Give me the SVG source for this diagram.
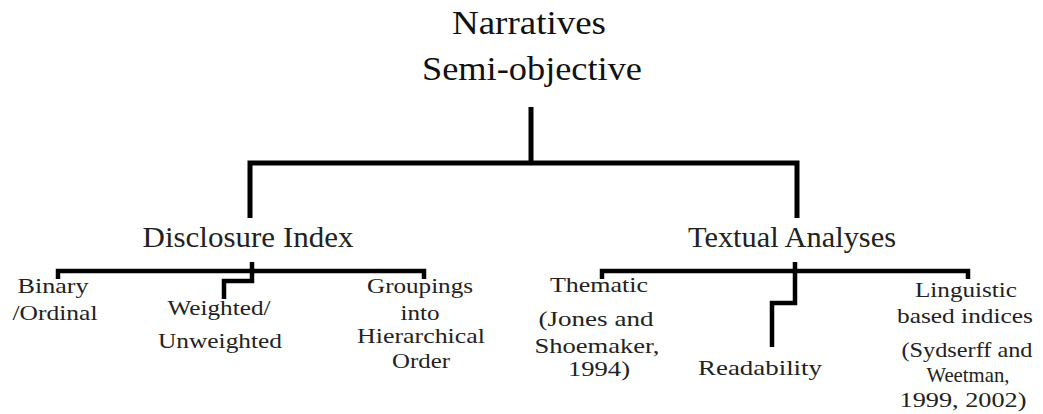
<svg xmlns="http://www.w3.org/2000/svg" width="1043" height="414" viewBox="0 0 1043 414">
<style>
.top{font-family:"Liberation Serif","Times New Roman",serif;font-size:33px;fill:#111;text-anchor:middle}
.mid{font-family:"Liberation Serif","Times New Roman",serif;font-size:29px;fill:#222;text-anchor:middle}
.low{font-family:"Liberation Serif","Times New Roman",serif;font-size:21px;fill:#222;text-anchor:middle}
.ln{fill:none;stroke:#000;stroke-width:5;stroke-linejoin:miter;stroke-linecap:butt}
.ln2{fill:none;stroke:#000;stroke-width:4.5;stroke-linejoin:miter;stroke-linecap:butt}
</style>
<rect width="1043" height="414" fill="#fff"/>
<g id="connectors">
<path class="ln" d="M531 107 V163"/>
<path class="ln" d="M250 218 V163 H797 V218"/>
<path class="ln2" d="M58 279 V271 H424 V279"/>
<path class="ln2" d="M252 262 V281 H224 V299"/>
<path class="ln2" d="M602 279 V271 H968 V279"/>
<path class="ln2" d="M795 262 V303 H772 V347"/>
</g>
<g id="node-narratives">
<text class="top" x="529" y="34" textLength="154" lengthAdjust="spacingAndGlyphs">Narratives</text>
<text class="top" x="532" y="80" textLength="220" lengthAdjust="spacingAndGlyphs">Semi-objective</text>
</g>
<g id="node-disclosure">
<text class="mid" x="248" y="247" textLength="211" lengthAdjust="spacingAndGlyphs">Disclosure Index</text>
</g>
<g id="node-textual">
<text class="mid" x="792" y="247" textLength="208" lengthAdjust="spacingAndGlyphs">Textual Analyses</text>
</g>
<g id="node-binary">
<text class="low" x="53" y="293" textLength="71" lengthAdjust="spacingAndGlyphs">Binary</text>
<text class="low" x="55" y="320" textLength="85" lengthAdjust="spacingAndGlyphs">/Ordinal</text>
</g>
<g id="node-weighted">
<text class="low" x="219" y="315" textLength="103" lengthAdjust="spacingAndGlyphs">Weighted/</text>
<text class="low" x="220" y="348" textLength="124" lengthAdjust="spacingAndGlyphs">Unweighted</text>
</g>
<g id="node-groupings">
<text class="low" x="420" y="293" textLength="106" lengthAdjust="spacingAndGlyphs">Groupings</text>
<text class="low" x="420" y="320" textLength="39" lengthAdjust="spacingAndGlyphs">into</text>
<text class="low" x="421" y="343" textLength="128" lengthAdjust="spacingAndGlyphs">Hierarchical</text>
<text class="low" x="421" y="368" textLength="58" lengthAdjust="spacingAndGlyphs">Order</text>
</g>
<g id="node-thematic">
<text class="low" x="599" y="292" textLength="98" lengthAdjust="spacingAndGlyphs">Thematic</text>
<text class="low" x="596" y="326" textLength="115" lengthAdjust="spacingAndGlyphs">(Jones and</text>
<text class="low" x="597" y="353" textLength="125" lengthAdjust="spacingAndGlyphs">Shoemaker,</text>
<text class="low" x="599" y="376" textLength="62" lengthAdjust="spacingAndGlyphs">1994)</text>
</g>
<g id="node-readability">
<text class="low" x="760" y="375" textLength="124" lengthAdjust="spacingAndGlyphs">Readability</text>
</g>
<g id="node-linguistic">
<text class="low" x="966" y="297" textLength="102" lengthAdjust="spacingAndGlyphs">Linguistic</text>
<text class="low" x="965" y="323" textLength="136" lengthAdjust="spacingAndGlyphs">based indices</text>
<text class="low" x="967" y="357" textLength="131" lengthAdjust="spacingAndGlyphs">(Sydserff and</text>
<text class="low" x="968" y="382" textLength="83" lengthAdjust="spacingAndGlyphs">Weetman,</text>
<text class="low" x="963" y="407" textLength="127" lengthAdjust="spacingAndGlyphs">1999, 2002)</text>
</g>
</svg>
